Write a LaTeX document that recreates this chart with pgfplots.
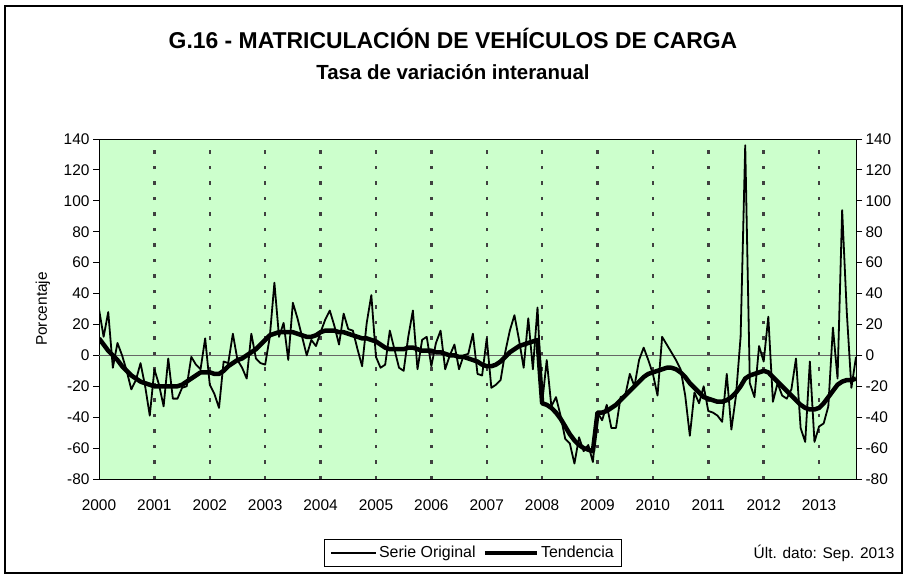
\documentclass[border=0pt]{standalone}
\usepackage{fontspec}
\setmainfont{Liberation Sans}
\usepackage{pgfplots}
\usepackage{pgfplotstable}
\pgfplotsset{compat=1.18}
\definecolor{bggreen}{RGB}{204,255,204}
\pgfplotsset{
  legA/.style={legend image code/.code={\draw[##1] (0bp,0bp) -- (45bp,0bp);}},
  legB/.style={legend image code/.code={\draw[##1] (0bp,0bp) -- (52bp,0bp);}},
}

\pgfplotstableread{
m s t
0 30 11
1 12 7
2 28 3
3 -8 0
4 8 -3
5 0 -7
6 -10 -10
7 -22 -13
8 -16 -15
9 -5 -17
10 -20 -18
11 -39 -19
12 -9 -20
13 -19 -20
14 -33 -20
15 -2 -20
16 -28 -20
17 -28 -20
18 -21 -19
19 -20 -17
20 -1 -15
21 -6 -13
22 -9 -11
23 11 -11
24 -19 -11
25 -25 -12
26 -34 -12
27 -4 -10
28 -5 -7
29 14 -5
30 -3 -3
31 -8 -2
32 -15 0
33 14 2
34 -2 4
35 -5 7
36 -6 10
37 12 13
38 47 14
39 12 15
40 21 15
41 -3 15
42 34 15
43 24 14
44 12 13
45 0 12
46 10 12
47 6 13
48 15 15
49 23 16
50 29 16
51 19 16
52 7 15
53 27 15
54 17 14
55 16 13
56 4 12
57 -7 11
58 21 11
59 39 10
60 -1 9
61 -8 7
62 -6 5
63 16 4
64 4 4
65 -8 4
66 -10 4
67 12 5
68 29 5
69 -9 4
70 10 3
71 12 3
72 -7 3
73 8 2
74 16 2
75 -9 1
76 0 0
77 7 0
78 -9 -1
79 0 -1
80 1 -2
81 14 -3
82 -12 -4
83 -13 -6
84 11 -7
85 -21 -7
86 -19 -6
87 -16 -4
88 2 -1
89 16 2
90 26 4
91 10 6
92 -8 7
93 24 8
94 -9 9
95 31 10
96 -31 -31
97 -3 -32
98 -33 -34
99 -27 -37
100 -39 -41
101 -54 -46
102 -57 -51
103 -70 -55
104 -53 -58
105 -62 -60
106 -58 -61
107 -69 -62
108 -37 -37
109 -42 -37
110 -32 -36
111 -47 -34
112 -47 -32
113 -27 -29
114 -26 -26
115 -12 -23
116 -20 -20
117 -3 -17
118 5 -14
119 -3 -12
120 -12 -11
121 -26 -10
122 12 -9
123 7 -8
124 2 -8
125 -3 -9
126 -9 -11
127 -26 -14
128 -52 -18
129 -24 -21
130 -31 -24
131 -20 -27
132 -36 -28
133 -37 -29
134 -39 -30
135 -43 -30
136 -12 -29
137 -48 -27
138 -26 -24
139 12 -20
140 136 -15
141 -18 -13
142 -27 -12
143 6 -11
144 -4 -10
145 25 -11
146 -30 -14
147 -18 -17
148 -26 -20
149 -28 -23
150 -22 -26
151 -2 -29
152 -47 -32
153 -56 -34
154 -4 -35
155 -56 -35
156 -46 -34
157 -44 -31
158 -33 -27
159 18 -23
160 -15 -19
161 94 -17
162 28 -16
163 -21 -16
164 -1 -15
}\datatable

\begin{document}
\begin{tikzpicture}
\path[use as bounding box] (0,0) rectangle (907bp,-575bp);
\draw[line width=2.5bp] (5bp,-6bp) rectangle (902bp,-573bp);
\node[anchor=base, font=\fontsize{23}{27}\selectfont\bfseries] at (453bp,-48bp) {G.16 - MATRICULACIÓN DE VEHÍCULOS DE CARGA};
\node[anchor=base, font=\fontsize{20.5}{24}\selectfont\bfseries] at (453bp,-79bp) {Tasa de variación interanual};
\node[rotate=90, font=\fontsize{15.5}{18}\selectfont] at (43bp,-309bp) {Porcentaje};
\node[anchor=east, font=\fontsize{15.5}{18}\selectfont] at (898bp,-553bp) {Últ. dato: Sep. 2013};

\begin{axis}[
  at={(99bp,-479bp)}, anchor=south west,
  scale only axis, width=757bp, height=340bp,
  xmin=0, xmax=164, ymin=-80, ymax=140,
  axis background/.style={fill=bggreen},
  axis line style={black, line width=0.9bp},
  /pgf/number format/assume math mode=true,
  tick label style={font=\fontsize{15.5}{18}\selectfont},
  xtick={12,24,36,48,60,72,84,96,108,120,132,144,156},
  xticklabels={2001,2002,2003,2004,2005,2006,2007,2008,2009,2010,2011,2012,2013},
  extra x ticks={0}, extra x tick labels={2000}, extra x tick style={grid=none},
  xmajorgrids,
  major grid style={draw=black!75, line width=2.4bp, dash pattern=on 3.5bp off 12bp},
  x tick style={draw=none},
  xticklabel style={yshift=-11bp},
  ytick={-80,-60,...,140},
  ytick pos=both, yticklabel pos=left,
  y tick style={black, line width=0.9bp},
  tick align=outside, major tick length=6bp,
  extra y ticks={0}, extra y tick labels={},
  extra y tick style={grid=major, major grid style={draw=black!60, line width=1.3bp, solid}},
  legend style={at={(0.297,-0.176)}, anchor=north west, draw=black, line width=0.8bp,
    font=\fontsize{16}{19}\selectfont, legend columns=2,
    inner xsep=6bp, inner ysep=5bp,
    /tikz/every even column/.append style={column sep=5bp}},
]
\addplot[black, line width=1.8bp, line join=round, legA]
  table[x=m, y=s] {\datatable};
\addlegendentry{Serie Original}
\addplot[black, line width=4.5bp, line join=round, legB]
  table[x=m, y=t] {\datatable};
\addlegendentry{Tendencia}
\end{axis}

\begin{axis}[
  at={(99bp,-479bp)}, anchor=south west,
  scale only axis, width=757bp, height=340bp,
  xmin=0, xmax=164, ymin=-80, ymax=140,
  axis x line=none, axis y line*=right,
  axis line style={black, line width=0.9bp},
  /pgf/number format/assume math mode=true,
  tick label style={font=\fontsize{15.5}{18}\selectfont},
  ytick={-80,-60,...,140},
  y tick style={black, line width=0.9bp},
  tick align=outside, major tick length=6bp,
]
\addplot[draw=none] coordinates {(0,0)};
\end{axis}
\end{tikzpicture}
\end{document}
